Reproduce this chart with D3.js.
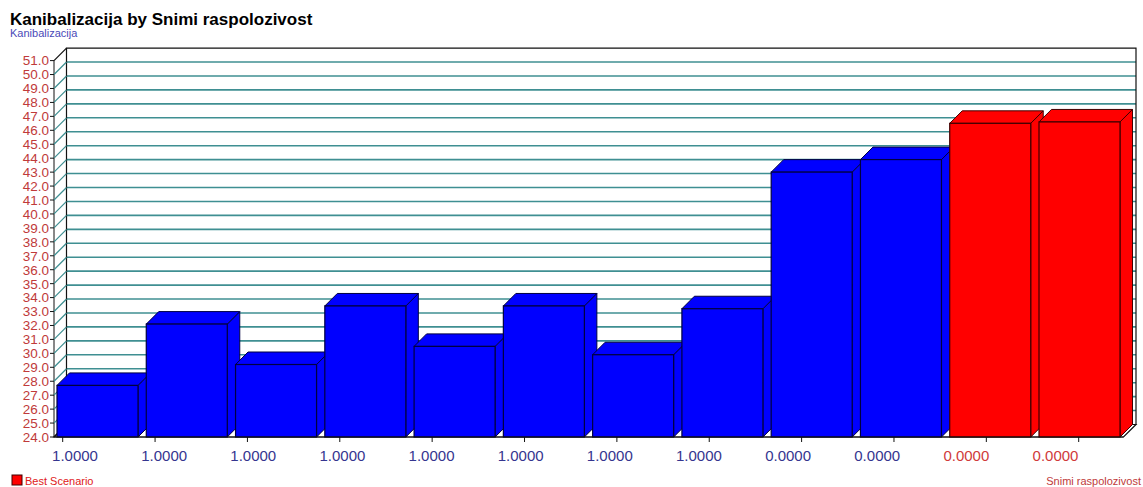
<!DOCTYPE html>
<html>
<head>
<meta charset="utf-8">
<script src="https://cdn.jsdelivr.net/npm/d3@7"></script>
<style>
  html, body { margin: 0; padding: 0; background: #ffffff; }
  svg { display: block; }
  text { font-family: "Liberation Sans", Arial, sans-serif; }
</style>
</head>
<body>
<svg id="chart" width="1143" height="487"></svg>
<script>
// Kanibalizacija per Snimi raspolozivost category
const categories = ["1.0000", "1.0000", "1.0000", "1.0000", "1.0000", "1.0000",
                    "1.0000", "1.0000", "0.0000", "0.0000", "0.0000", "0.0000"];
const kanibalizacija = [27.7, 32.1, 29.2, 33.4, 30.5, 33.4, 29.9, 33.2, 43.0, 43.9, 46.5, 46.6];
const bestScenario = [false, false, false, false, false, false, false, false, false, false, true, true];
const labelHighlight = [false, false, false, false, false, false, false, false, false, false, true, true];
const yTicks = d3.range(24, 51.001, 1);

const W = 1143, H = 487;
const svg = d3.select("#chart");

// 3D depth offsets
const DX = 12.5, DY = 12.5;
const frontLeft = 54, frontRight = 1123.5;
const floorY = 437, topY = 60.6;

const y = d3.scaleLinear().domain([24, 51]).range([floorY, topY]);
const idx = categories.map((d, i) => i);
const x = d3.scaleBand().domain(idx).range([57, 1120]).paddingInner(0.0926).paddingOuter(0);
const xLabel = d3.scalePoint().domain(idx).range([75, 1055.5]);
const xTick = d3.scalePoint().domain(idx).range([62.7, 1078.7]);

// Title
svg.append("text").attr("x", 10).attr("y", 25)
  .attr("font-size", 17).attr("font-weight", "bold").attr("fill", "#000")
  .text("Kanibalizacija by Snimi raspolozivost");
svg.append("text").attr("x", 10).attr("y", 37)
  .attr("font-size", 11).attr("fill", "#4a4ab8")
  .text("Kanibalizacija");

// Back wall
const wall = svg.append("g");
const backL = frontLeft + DX, backR = frontRight + DX;
wall.append("rect").attr("x", backL).attr("y", y(51) - DY)
  .attr("width", backR - backL).attr("height", (floorY - DY) - (y(51) - DY))
  .attr("fill", "#ffffff");
// Grid lines on the back wall
wall.selectAll("line.grid").data(yTicks.filter(v => v > 24 && v < 51)).join("line")
  .attr("class", "grid")
  .attr("x1", backL).attr("x2", backR)
  .attr("y1", d => y(d) - DY).attr("y2", d => y(d) - DY)
  .attr("stroke", "#3f8f92").attr("stroke-width", 1.6);
// Wall frame
wall.append("path")
  .attr("d", `M${backL},${floorY - DY} V${y(51) - DY} H${backR} V${floorY - DY}`)
  .attr("fill", "none").attr("stroke", "#111").attr("stroke-width", 1.2);
// Floor
wall.append("path")
  .attr("d", `M${frontLeft},${floorY} L${backL},${floorY - DY} H${backR} L${frontRight},${floorY} Z`)
  .attr("fill", "#ffffff").attr("stroke", "#111").attr("stroke-width", 1.2);

// Left axis: front line, ticks, and depth diagonals
const yAxisG = svg.append("g");
yAxisG.append("line").attr("x1", frontLeft).attr("x2", frontLeft)
  .attr("y1", y(51)).attr("y2", floorY).attr("stroke", "#111").attr("stroke-width", 1);
yAxisG.selectAll("line.tick").data(yTicks).join("line").attr("class", "tick")
  .attr("x1", frontLeft - 4).attr("x2", frontLeft)
  .attr("y1", d => y(d)).attr("y2", d => y(d)).attr("stroke", "#111");
yAxisG.selectAll("line.diag").data(yTicks).join("line").attr("class", "diag")
  .attr("x1", frontLeft).attr("x2", backL)
  .attr("y1", d => y(d)).attr("y2", d => y(d) - DY)
  .attr("stroke", d => (d === 24 || d === 51) ? "#111" : "#3f8f92").attr("stroke-width", 1.2);
yAxisG.selectAll("text").data(yTicks).join("text")
  .attr("x", frontLeft - 5).attr("y", d => y(d)).attr("dy", "0.36em")
  .attr("text-anchor", "end").attr("font-size", 13.5).attr("fill", "#c03a3a")
  .text(d => d.toFixed(1));

// Bars (front face, top face, right side)
const bars = svg.append("g");
const bw = x.bandwidth();
idx.forEach(i => {
  const x0 = x(i), x1 = x0 + bw, yt = y(kanibalizacija[i]);
  const fill = bestScenario[i] ? "#ff0000" : "#0000ff";
  const stroke = bestScenario[i] ? "#400000" : "#000040";
  const g = bars.append("g");
  g.append("path")
    .attr("d", `M${x1},${floorY} L${x1 + DX},${floorY - DY} V${yt - DY} L${x1},${yt} Z`)
    .attr("fill", fill).attr("stroke", stroke).attr("stroke-width", 1).attr("stroke-linejoin", "round");
  g.append("path")
    .attr("d", `M${x0},${yt} L${x0 + DX},${yt - DY} H${x1 + DX} L${x1},${yt} Z`)
    .attr("fill", fill).attr("stroke", stroke).attr("stroke-width", 1).attr("stroke-linejoin", "round");
  g.append("rect").attr("x", x0).attr("y", yt).attr("width", bw).attr("height", floorY - yt)
    .attr("fill", fill).attr("stroke", stroke).attr("stroke-width", 1.2);
});

// Category axis
const xAxisG = svg.append("g");
xAxisG.append("line").attr("x1", frontLeft).attr("x2", frontRight)
  .attr("y1", floorY).attr("y2", floorY).attr("stroke", "#111").attr("stroke-width", 1.2);
xAxisG.selectAll("line.tick").data(idx).join("line").attr("class", "tick")
  .attr("x1", d => xTick(d)).attr("x2", d => xTick(d))
  .attr("y1", floorY).attr("y2", floorY + 5).attr("stroke", "#111");
xAxisG.selectAll("text").data(idx).join("text")
  .attr("x", d => xLabel(d)).attr("y", 461)
  .attr("text-anchor", "middle").attr("font-size", 15)
  .attr("fill", d => labelHighlight[d] ? "#d03a3a" : "#35358f")
  .text(d => categories[d]);

// Legend and axis title
svg.append("rect").attr("x", 12).attr("y", 475).attr("width", 10).attr("height", 10)
  .attr("fill", "#ff0000").attr("stroke", "#400000");
svg.append("text").attr("x", 25).attr("y", 485).attr("font-size", 11).attr("fill", "#e02020")
  .text("Best Scenario");
svg.append("text").attr("x", 1141).attr("y", 485).attr("font-size", 11)
  .attr("text-anchor", "end").attr("fill", "#c03a3a")
  .text("Snimi raspolozivost");
</script>
</body>
</html>
